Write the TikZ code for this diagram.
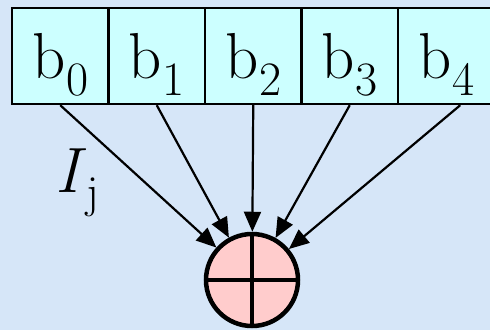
\documentclass[tikz,border=0pt]{standalone}
\usepackage{fontspec}
\usetikzlibrary{arrows.meta}
\definecolor{bgblue}{HTML}{D6E6F8}
\definecolor{boxfill}{HTML}{CCFFFF}
\definecolor{xorfill}{HTML}{FFCCCC}
\newcommand{\bsub}[1]{b\kern0.5pt\raisebox{-17pt}{\fontsize{48}{48}\selectfont #1}}
\begin{document}
\begin{tikzpicture}[x=1pt,y=-1pt,
  cell/.style={draw, line width=2.4pt, fill=boxfill, minimum width=96.5pt, minimum height=96pt,
    inner sep=0pt, text height=60pt, text depth=16pt, font=\fontsize{65}{65}\selectfont},
  feed/.style={line width=2.2pt, -{Triangle[length=20pt,width=17pt]}},
  xor/.style={circle, draw, line width=4.5pt, fill=xorfill, minimum size=92pt, inner sep=0pt}]
\fill[bgblue] (0,0) rectangle (490,330);
\useasboundingbox (0,0) rectangle (490,330);
\clip (0,0) rectangle (490,330);
\node[cell] (b0) at (60.25,56) {\bsub{0}};
\node[cell] (b1) at (156.75,56) {\bsub{1}};
\node[cell] (b2) at (253.25,56) {\bsub{2}};
\node[cell] (b3) at (349.75,56) {\bsub{3}};
\node[cell] (b4) at (446.25,56) {\bsub{4}};
\node[xor] (x) at (252,280) {};
\draw[line width=3.5pt] (x.north) -- (x.south);
\draw[line width=3.5pt] (x.west) -- (x.east);
\draw[feed] (b0.south) -- (x);
\draw[feed] (b1.south) -- (x);
\draw[feed] (b2.south) -- (x);
\draw[feed] (b3.south) -- (x);
\draw[feed] ([xshift=14pt]b4.south) -- (x);
\node[font=\fontsize{64}{64}\selectfont, anchor=base west, inner sep=0pt] (ij) at (55,192)
  {\textit{I}\kern0pt\raisebox{-15pt}{\fontsize{46}{46}\selectfont j}};
\end{tikzpicture}
\end{document}
